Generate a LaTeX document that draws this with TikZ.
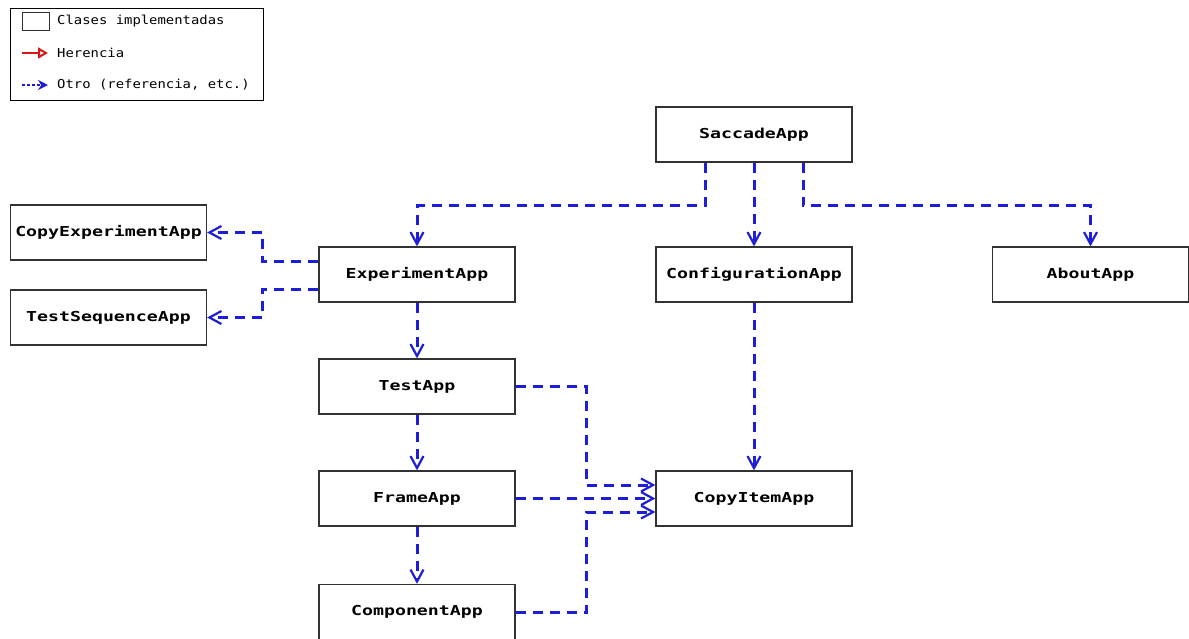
\documentclass[tikz,border=0pt]{standalone}
\usepackage{fontspec}
\usetikzlibrary{arrows.meta}
\newfontfamily\nodefont[FakeStretch=1.33]{DejaVu Sans Mono}
\newfontfamily\legfont[FakeStretch=1.13]{DejaVu Sans Mono}
\definecolor{depblue}{RGB}{30,30,215}
\definecolor{boxgray}{RGB}{50,50,50}
\definecolor{inhred}{RGB}{215,25,25}
\tikzset{
  cls/.style={draw=boxgray, line width=1.3pt, fill=white, minimum width=196pt, minimum height=55pt, inner sep=0pt,
    font=\nodefont\bfseries\fontsize{13.7}{16}\selectfont},
  dep/.style={draw=depblue, line width=3pt, dash pattern=on 10pt off 7pt,
    -{Straight Barb[length=12pt,width=13pt,line width=2.2pt]}},
  legtext/.style={anchor=west, inner sep=0pt, font=\legfont\fontsize{12.3}{14}\selectfont}
}
\begin{document}
\begin{tikzpicture}[x=1pt,y=-1pt]
\useasboundingbox (0,0) rectangle (1189,638);
% legend
\node[draw=black, line width=1.2pt, minimum width=253pt, minimum height=92pt, inner sep=0pt, anchor=north west] (leg) at (10,8) {};
\node[draw=boxgray, line width=1.3pt, minimum width=27pt, minimum height=18pt, inner sep=0pt, anchor=north west] (legbox) at (22,12) {};
\node[legtext] (l1) at (57,21) {Clases implementadas};
\coordinate (ra) at (22,53);
\coordinate (rb) at (48,53);
\draw[draw=inhred, line width=2.2pt, -{Triangle[open,length=10pt,width=11pt,line width=2pt,fill=white]}] (ra) -- (rb);
\node[legtext] (l2) at (57,53) {Herencia};
\coordinate (ba) at (22,85);
\coordinate (bb) at (48,85);
\draw[draw=depblue, line width=2.5pt, dash pattern=on 2.5pt off 2.5pt, -{Stealth[length=10pt,width=10pt]}] (ba) -- (bb);
\node[legtext] (l3) at (57,85) {Otro (referencia, etc.)};
% classes
\node[cls] (sac) at (754,134.5) {SaccadeApp};
\node[cls] (exp) at (417,274.5) {ExperimentApp};
\node[cls] (conf) at (754,274.5) {ConfigurationApp};
\node[cls] (about) at (1090.5,274.5) {AboutApp};
\node[cls] (cexp) at (108.5,232.5) {CopyExperimentApp};
\node[cls] (tseq) at (108.5,317.5) {TestSequenceApp};
\node[cls] (test) at (417,386.5) {TestApp};
\node[cls] (frame) at (417,498.5) {FrameApp};
\node[cls] (comp) at (417,612) {ComponentApp};
\node[cls] (ci) at (754,498.5) {CopyItemApp};
% connectors
\draw[dep] ([xshift=-49pt]sac.south) -- ++(0,43) -| (exp.north);
\draw[dep] (sac.south) -- (conf.north);
\draw[dep] ([xshift=49pt]sac.south) -- ++(0,43) -| (about.north);
\draw[dep] ([yshift=13.5pt]exp.west) -- ++(-56,0) |- (cexp.east);
\draw[dep] ([yshift=-14.5pt]exp.west) -- ++(-56,0) |- (tseq.east);
\draw[dep] (exp.south) -- (test.north);
\draw[dep] (test.south) -- (frame.north);
\draw[dep] (frame.south) -- (comp.north);
\draw[dep] (conf.south) -- (ci.north);
\draw[dep] (test.east) -- ++(71,0) |- ([yshift=13.5pt]ci.west);
\draw[dep] (frame.east) -- (ci.west);
\draw[dep] (comp.east) -- ++(71,0) |- ([yshift=-13.5pt]ci.west);
\end{tikzpicture}
\end{document}
